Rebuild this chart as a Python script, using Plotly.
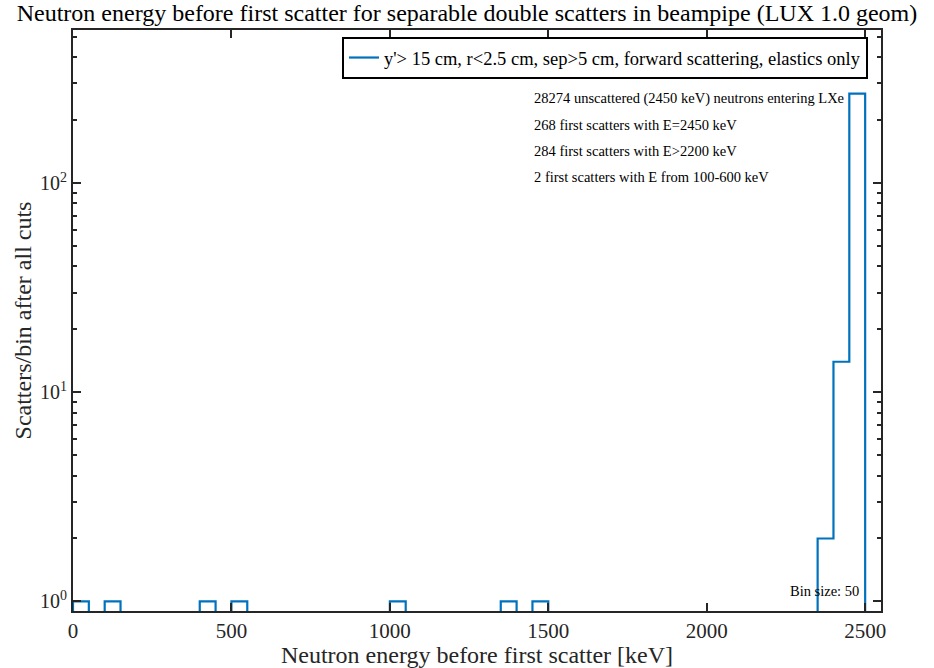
import numpy as np
import plotly.graph_objects as go

# ---- data ----
bin_width = 50
bin_edges_range = [0, 2500]
bin_left = [0, 100, 400, 500, 1000, 1350, 1450, 2350, 2400, 2450]
bin_counts = [1, 1, 1, 1, 1, 1, 1, 2, 14, 268]

x_tick_vals = [0, 500, 1000, 1500, 2000, 2500]
y_tick_vals = [1, 10, 100]
y_tick_text = ["10<sup>0</sup>", "10<sup>1</sup>", "10<sup>2</sup>"]

title_text = "Neutron energy before first scatter for separable double scatters in beampipe (LUX 1.0 geom)"
legend_name = "y'> 15 cm, r<2.5 cm, sep>5 cm, forward scattering, elastics only"
notes = [
    "28274 unscattered (2450 keV) neutrons entering LXe",
    "268 first scatters with E=2450 keV",
    "284 first scatters with E>2200 keV",
    "2 first scatters with E from 100-600 keV",
]
bin_note = "Bin size: 50"

# ---- build full histogram (stairs) ----
edges = np.arange(bin_edges_range[0], bin_edges_range[1] + bin_width, bin_width)
counts = np.zeros(len(edges) - 1)
for l, c in zip(bin_left, bin_counts):
    counts[int((l - edges[0]) // bin_width)] = c

floor = 1e-3  # empty bins drop below the visible log range
yv = np.where(counts > 0, counts, floor)
xs = [edges[0]]
ys = [floor]
for i in range(len(counts)):
    xs += [edges[i], edges[i + 1]]
    ys += [yv[i], yv[i]]
xs.append(edges[-1])
ys.append(floor)

serif = "Liberation Serif"
axis_col = "#262626"

fig = go.Figure()
fig.add_trace(go.Scatter(
    x=xs, y=ys, mode="lines", name=legend_name,
    line=dict(color="#0072BD", width=2.2),
))

minor_vals = [m * 10 ** k for k in range(-1, 3) for m in range(2, 10)]

L, R, T, B = 73, 53, 30, 57
PW, PH = 934 - L - R, 668 - T - B

fig.update_layout(
    template="none",
    width=934, height=668,
    margin=dict(l=L, r=R, t=T, b=B, autoexpand=False),
    paper_bgcolor="white", plot_bgcolor="white",
    font=dict(family=serif, color=axis_col),
    title=dict(text=title_text, x=0.5, xref="container", xanchor="center",
               y=1 - 13 / 668, yanchor="middle",
               font=dict(family=serif, size=24, color="#000")),
    showlegend=True,
    legend=dict(x=(868 - L) / PW, xanchor="right", y=1 - (37 - T) / PH, yanchor="top",
                bordercolor="#000", borderwidth=2, bgcolor="white",
                font=dict(family=serif, size=18.5, color="#000"),
                itemwidth=30, tracegroupgap=0),
    xaxis=dict(range=[0, 2550], tickvals=x_tick_vals, ticks="inside", ticklen=8,
               tickwidth=1.5, tickcolor=axis_col, showline=True, linecolor=axis_col,
               linewidth=2, mirror="ticks", showgrid=False, zeroline=False,
               automargin=False,
               tickfont=dict(family=serif, size=21, color=axis_col),
               title=dict(text="Neutron energy before first scatter [keV]",
                          font=dict(family=serif, size=24, color=axis_col), standoff=3)),
    yaxis=dict(type="log", range=[np.log10(0.9), np.log10(540)],
               tickvals=y_tick_vals, ticktext=y_tick_text, ticks="inside", ticklen=8,
               tickwidth=1.5, tickcolor=axis_col, showline=True, linecolor=axis_col,
               linewidth=2, mirror="ticks", showgrid=False, zeroline=False,
               automargin=False,
               tickfont=dict(family=serif, size=20, color=axis_col),
               minor=dict(tickvals=minor_vals, ticks="inside", ticklen=4,
                          tickwidth=1.5, tickcolor=axis_col, showgrid=False),
               title=dict(text="Scatters/bin after all cuts",
                          font=dict(family=serif, size=24, color=axis_col), standoff=2)),
)

for i, t in enumerate(notes):
    fig.add_annotation(text=t, xref="paper", yref="paper",
                       x=(532 - L) / PW, xanchor="left",
                       y=1 - (99 + 26 * i - T) / PH, yanchor="middle",
                       showarrow=False, font=dict(family=serif, size=14.5, color="#000"))
fig.add_annotation(text=bin_note, xref="paper", yref="paper",
                   x=(861 - L) / PW, xanchor="right",
                   y=1 - (591 - T) / PH, yanchor="middle",
                   showarrow=False, font=dict(family=serif, size=14.5, color="#000"))

fig.write_html("out.html", config={"displayModeBar": False},
               post_script="document.body.style.margin='0';document.body.style.padding='0';")
